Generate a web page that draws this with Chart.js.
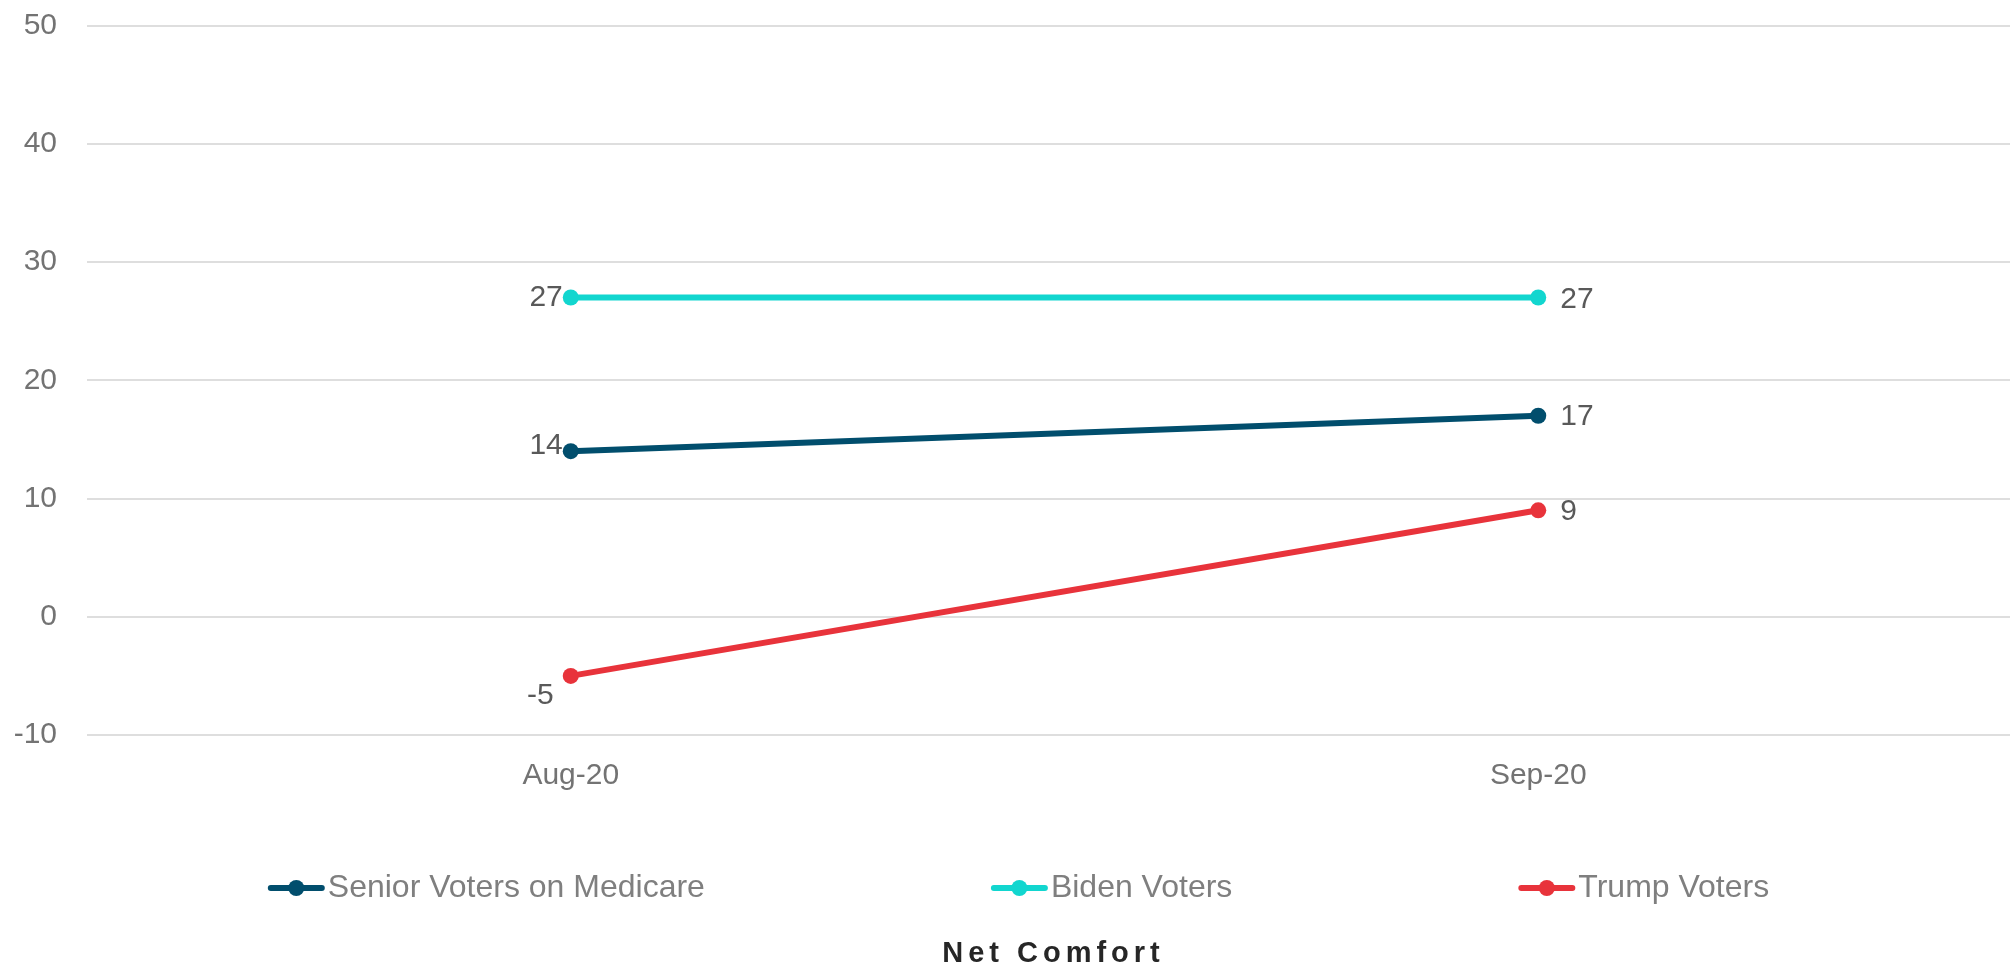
<!DOCTYPE html>
<html>
<head>
<meta charset="utf-8">
<title>Net Comfort</title>
<script src="https://cdn.jsdelivr.net/npm/chart.js@4.4.1/dist/chart.umd.min.js"></script>
<style>
    html, body { margin: 0; padding: 0; background: #fff; overflow: hidden; }
    #wrap { width: 2010px; height: 962px; overflow: hidden; }
</style>
</head>
<body>
<div id="wrap"><canvas id="chart" width="2030" height="962"></canvas></div>
<script>
const months = ['Aug-20', 'Sep-20'];
const seniorVoters = [14, 17];
const bidenVoters = [27, 27];
const trumpVoters = [-5, 9];
const seriesNames = ['Senior Voters on Medicare', 'Biden Voters', 'Trump Voters'];
const seriesColors = ['#014e6d', '#12d6cf', '#e8333b'];
const chartTitle = 'Net Comfort';

const FONT = "'Liberation Sans', Arial, sans-serif";

// where each value label sits next to its point
const labelSpots = [
    [{ dx: -8, dy: -5, align: 'right' }, { dx: 22, dy: 1, align: 'left' }],
    [{ dx: -8, dy: 0, align: 'right' }, { dx: 22, dy: 2, align: 'left' }],
    [{ dx: -17, dy: 20, align: 'right' }, { dx: 22, dy: 1, align: 'left' }]
];

const valueLabels = {
    id: 'valueLabels',
    afterDatasetsDraw(chart) {
        const ctx = chart.ctx;
        ctx.save();
        ctx.font = '30px ' + FONT;
        ctx.fillStyle = '#595959';
        ctx.textBaseline = 'middle';
        chart.data.datasets.forEach((ds, i) => {
            const meta = chart.getDatasetMeta(i);
            meta.data.forEach((pt, j) => {
                const spot = labelSpots[i][j];
                ctx.textAlign = spot.align;
                ctx.fillText(String(ds.data[j]), pt.x + spot.dx, pt.y + spot.dy);
            });
        });
        ctx.restore();
    }
};

const bottomLegend = {
    id: 'bottomLegend',
    afterDraw(chart) {
        const ctx = chart.ctx;
        ctx.save();
        ctx.font = '32px ' + FONT;
        ctx.textBaseline = 'middle';
        ctx.textAlign = 'left';
        const markW = 57, gap = 286, y = 888;
        const widths = chart.data.datasets.map(ds => markW + 3 + ctx.measureText(ds.label).width);
        const total = widths.reduce((a, b) => a + b, 0) + gap * (widths.length - 1);
        let x = 1018.5 - total / 2;
        chart.data.datasets.forEach((ds, i) => {
            ctx.strokeStyle = ds.borderColor;
            ctx.lineWidth = 6;
            ctx.lineCap = 'round';
            ctx.beginPath();
            ctx.moveTo(x + 3, y);
            ctx.lineTo(x + markW - 3, y);
            ctx.stroke();
            ctx.fillStyle = ds.borderColor;
            ctx.beginPath();
            ctx.arc(x + markW / 2, y, 8, 0, Math.PI * 2);
            ctx.fill();
            ctx.fillStyle = '#7f7f7f';
            ctx.fillText(ds.label, x + markW + 3, y);
            x += widths[i] + gap;
        });

        ctx.font = 'bold 29px ' + FONT;
        ctx.fillStyle = '#262626';
        ctx.letterSpacing = '5px';
        const tw = ctx.measureText(chartTitle).width - 5;
        ctx.textBaseline = 'alphabetic';
        ctx.fillText(chartTitle, 1051 - tw / 2, 962);
        ctx.restore();
    }
};

function makeSeries(i, values) {
    return {
        label: seriesNames[i],
        data: values,
        borderColor: seriesColors[i],
        backgroundColor: seriesColors[i],
        borderWidth: 6,
        pointRadius: 8,
        pointHoverRadius: 8,
        pointBorderWidth: 0,
        tension: 0
    };
}

const ctx = document.getElementById('chart').getContext('2d');

new Chart(ctx, {
    type: 'line',
    data: {
        labels: months,
        datasets: [
            makeSeries(0, seniorVoters),
            makeSeries(1, bidenVoters),
            makeSeries(2, trumpVoters)
        ]
    },
    options: {
        responsive: false,
        animation: false,
        layout: {
            padding: { top: 25.5, left: 12, right: 5, bottom: 153 }
        },
        plugins: {
            legend: { display: false },
            title: { display: false },
            tooltip: { enabled: false }
        },
        scales: {
            x: {
                offset: true,
                grid: { display: false },
                border: { display: false },
                ticks: {
                    color: '#737373',
                    padding: 15,
                    font: { family: FONT, size: 30 }
                }
            },
            y: {
                min: -10,
                max: 50,
                afterFit(scale) {
                    scale.width = 75;
                    scale.paddingTop = 18;
                    scale.paddingBottom = 18;
                },
                border: { display: false },
                grid: {
                    color: '#dedede',
                    lineWidth: 2,
                    drawTicks: false
                },
                ticks: {
                    stepSize: 10,
                    color: '#737373',
                    padding: 30,
                    font: { family: FONT, size: 30 }
                }
            }
        }
    },
    plugins: [valueLabels, bottomLegend]
});
</script>
</body>
</html>
